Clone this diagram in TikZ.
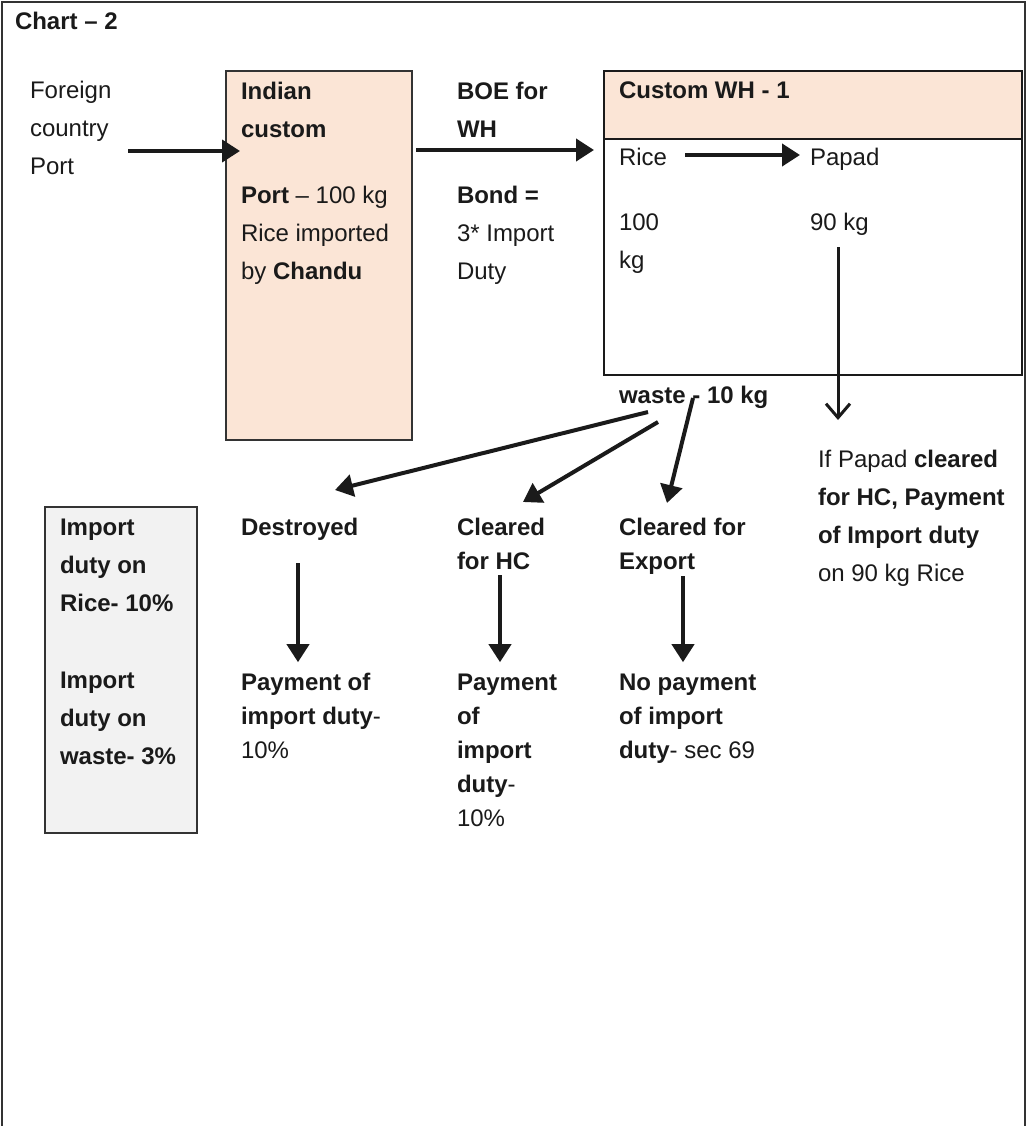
\documentclass[tikz,border=0pt]{standalone}
\usepackage{fontspec}
\setmainfont{Liberation Sans}
\usetikzlibrary{arrows.meta,calc}
\definecolor{peach}{HTML}{FBE5D6}
\definecolor{paleg}{HTML}{F2F2F2}
\definecolor{edge}{HTML}{333333}
\definecolor{ink}{HTML}{1A1A1A}
\newcommand\bodyfont{\fontsize{24pt}{38pt}\selectfont}
\newcommand\tightfont{\fontsize{24pt}{34pt}\selectfont}
\begin{document}
\begin{tikzpicture}[x=1pt,y=-1pt,
  lbl/.style={inner sep=0pt, outer sep=0pt, anchor=north west, align=left, font=\bodyfont, text=ink},
  lbltight/.style={lbl, font=\tightfont},
  panel/.style={draw=edge, line width=1.5pt, inner sep=0pt, outer sep=0pt, anchor=north west},
  arr/.style={draw=ink, line width=4pt, -{Triangle[length=18pt,width=22pt]}},
  thinarr/.style={draw=ink, line width=3pt, -{Straight Barb[length=14pt,width=24pt,line width=3pt]}},
  frame/.style={draw=edge, line width=2pt},
]
\useasboundingbox (0,0) rectangle (1027,1126);

% page frame (open at the bottom)
\draw[frame] (1.5,1126) -- (1.5,2) -- (1025,2) -- (1025,1126);

% boxes
\node[panel, fill=peach, minimum width=186pt, minimum height=369pt] (custom) at (226,71) {};
\node[panel, fill=white, draw=ink, minimum width=418pt, minimum height=236pt] (whbody) at (604,139) {};
\node[panel, fill=peach, draw=ink, minimum width=418pt, minimum height=68pt] (whhead) at (604,71) {};
\node[panel, fill=paleg, minimum width=152pt, minimum height=326pt] (dutybox) at (45,507) {};

% texts
\node[lbl] (title) at (15,3.4) {\strut\textbf{Chart -- 2}};
\node[lbl] (foreign) at (30,72.4) {\strut Foreign\\country\\Port};
\node[lbl] (customtxt) at (241,72.4) {\strut\textbf{Indian}\\\textbf{custom}\\[28pt]\textbf{Port} -- 100 kg\\Rice imported\\by \textbf{Chandu}};
\node[lbl] (boe) at (457,72.4) {\strut\textbf{BOE for}\\\textbf{WH}\\[28pt]\textbf{Bond =}\\3* Import\\Duty};
\node[lbl] (whtitle) at (619,72.4) {\strut\textbf{Custom WH - 1}};
\node[lbl] (rice) at (619,139.4) {\strut Rice};
\node[lbl] (papad) at (810,139.4) {\strut Papad};
\node[lbl] (rice100) at (619,203.4) {\strut 100\\kg};
\node[lbl] (papad90) at (810,203.4) {\strut 90 kg};
\node[lbl] (waste) at (619,376.4) {\strut\textbf{waste - 10 kg}};
\node[lbl] (papadnote) at (818,440.4) {\strut If Papad \textbf{cleared}\\\textbf{for HC, Payment}\\\textbf{of Import duty}\\on 90 kg Rice};
\node[lbl] (dutytxt) at (60,508.4) {\strut\textbf{Import}\\\textbf{duty on}\\\textbf{Rice- 10\%}\\[39pt]\textbf{Import}\\\textbf{duty on}\\\textbf{waste- 3\%}};
\node[lbl] (destroyed) at (241,508.4) {\strut\textbf{Destroyed}};
\node[lbltight] (hc) at (457,511.2) {\strut\textbf{Cleared}\\\textbf{for HC}};
\node[lbltight] (export) at (619,511.2) {\strut\textbf{Cleared for}\\\textbf{Export}};
\node[lbltight] (pay1) at (241,666.2) {\strut\textbf{Payment of}\\\textbf{import duty}-\\10\%};
\node[lbltight] (pay2) at (457,666.2) {\strut\textbf{Payment}\\\textbf{of}\\\textbf{import}\\\textbf{duty}-\\10\%};
\node[lbltight] (pay3) at (619,666.2) {\strut\textbf{No payment}\\\textbf{of import}\\\textbf{duty}- sec 69};

% connectors
\draw[arr] ($(foreign.north west)+(98,78.6)$) -- ($(custom.north west)+(14,80)$);
\draw[arr] ($(custom.north east)+(4,79)$) -- ($(whhead.north west)+(-10,79)$);
\draw[arr] ($(rice.north west)+(66,15.6)$) -- ($(papad.north west)+(-10,15.6)$);
\draw[thinarr] ($(papad90.north west)+(28,43.6)$) -- ($(papadnote.north west)+(20,-20.4)$);

\draw[arr] ($(waste.north west)+(29,35.6)$) -- ($(destroyed.north west)+(94,-18.4)$);
\draw[arr] ($(waste.north west)+(39,45.6)$) -- ($(hc.north west)+(66,-9.2)$);
\draw[arr] ($(waste.north west)+(74,21.6)$) -- ($(export.north west)+(48,-8.2)$);

\draw[arr] ($(destroyed.north west)+(57,54.6)$) -- ($(pay1.north west)+(57,-4)$);
\draw[arr] ($(hc.north west)+(43,63.8)$) -- ($(pay2.north west)+(43,-4)$);
\draw[arr] ($(export.north west)+(64,64.8)$) -- ($(pay3.north west)+(64,-4)$);
\end{tikzpicture}
\end{document}
